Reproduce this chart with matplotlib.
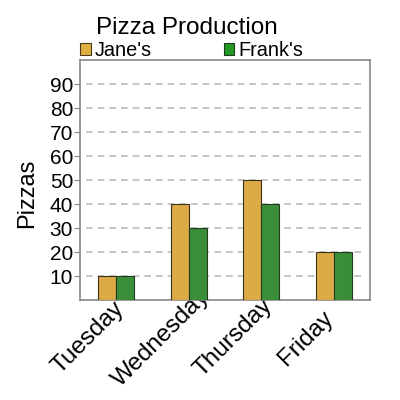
import numpy as np
import matplotlib
matplotlib.use("Agg")
import matplotlib.pyplot as plt
from matplotlib.transforms import ScaledTranslation
from matplotlib.patches import Patch

plt.rcParams['font.family'] = ['Liberation Sans', 'DejaVu Sans']

days = ["Tuesday", "Wednesday", "Thursday", "Friday"]
janes = [10, 40, 50, 20]
franks = [10, 30, 40, 20]
yticks = [10, 20, 30, 40, 50, 60, 70, 80, 90]

fig = plt.figure(figsize=(4, 4), dpi=100)
ax = fig.add_axes([0.2, 0.25, 0.725, 0.6])

x = np.arange(len(days))
w = 0.25
ax.bar(x - w / 2, janes, w, color='#dcab45', edgecolor='#3a3020', linewidth=0.8,
       zorder=3)
ax.bar(x + w / 2, franks, w, color='#3a8e3a', edgecolor='#1f3a1f', linewidth=0.8,
       zorder=3)

ax.set_xlim(-0.5, 3.5)
ax.set_ylim(0, 100)
ax.set_yticks(yticks)
ax.set_xticks(x)
ax.set_xticklabels(days, rotation=45, ha='center', va='center',
                   rotation_mode='anchor', fontsize=17.5)
ax.tick_params(axis='y', labelsize=15, length=4, pad=1, color='#888888')
ax.tick_params(axis='x', length=0, pad=0)
shift = ScaledTranslation(-0.28, -0.38, fig.dpi_scale_trans)
for lbl in ax.get_xticklabels():
    lbl.set_transform(lbl.get_transform() + shift)

for y in yticks:
    ax.plot([-0.42, 3.4], [y, y], color='#bbbbbb', linestyle=(0, (4, 3)),
            linewidth=1.2, zorder=1)
for s in ax.spines.values():
    s.set_color('#888888')
    s.set_linewidth(1.2)

ax.set_ylabel("Pizzas", fontsize=17)
ax.yaxis.set_label_coords(-0.145, 0.446)
fig.text(0.4675, 0.93, "Pizza Production", fontsize=17.5, ha='center', va='center')

handles = [Patch(facecolor='#e0b040', edgecolor='#4a3a20', linewidth=0.8),
           Patch(facecolor='#229922', edgecolor='#1f3a1f', linewidth=0.8)]
fig.legend(handles, ["Jane's", "Frank's"], loc='center left',
           bbox_to_anchor=(0.2, 0.874), ncol=2, frameon=False, fontsize=14.3,
           handlelength=0.55, handleheight=0.55, handletextpad=0.2,
           columnspacing=3.6, borderpad=0, borderaxespad=0)

fig.savefig("out.png", dpi=100)
